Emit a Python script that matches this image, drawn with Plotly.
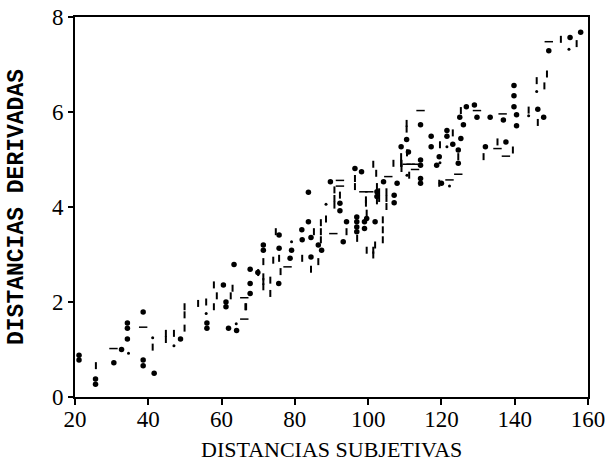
import plotly.graph_objects as go

# Round dots
dot_x = [21.1, 21.1, 25.6, 25.6, 30.6, 32.7, 34.3, 34.3, 34.3, 38.6, 38.6, 38.6, 41.6, 48.8,
         56.0, 56.0, 60.5, 61.2, 61.2, 61.9, 63.4, 64.1, 67.8, 67.8, 67.8, 69.9,
         71.4, 71.4, 75.6, 75.7, 75.7, 78.7, 79.1, 81.9, 82.0, 83.7, 83.7, 84.4, 84.4, 86.4,
         87.3, 89.7, 92.3, 92.3, 93.2, 94.1, 96.4, 96.9, 96.9, 96.9, 96.9, 98.2, 99.0, 99.0,
         99.6, 101.9, 102.4, 102.4, 104.2, 107.1, 107.1, 107.9, 111.0, 114.3, 114.3, 114.3,
         114.3, 118.7, 158.0, 155.1, 149.3, 146.3, 147.9, 139.8, 139.8, 139.8, 140.5, 140.5,
         136.9, 133.3, 132.0, 137.6, 129.0, 126.8, 125.0, 129.7, 126.0, 125.3, 124.6, 124.6,
         123.1, 121.5, 121.5, 119.4, 117.2, 117.2, 114.3, 110.5, 120.0, 109.0]
dot_y = [0.88, 0.78, 0.38, 0.27, 0.72, 1.00, 1.56, 1.45, 1.22, 1.79, 0.78, 0.66, 0.50, 1.22,
         1.56, 1.45, 2.36, 2.00, 1.90, 1.45, 2.79, 1.40, 2.69, 2.39, 2.18, 2.62,
         3.20, 3.09, 2.39, 3.41, 3.13, 2.92, 3.09, 3.52, 3.31, 3.69, 4.31, 3.36, 2.95, 3.20,
         3.09, 4.53, 4.08, 3.92, 3.27, 3.69, 4.81, 3.79, 3.69, 3.58, 3.48, 4.74, 3.69, 3.55,
         3.76, 3.69, 4.32, 4.22, 4.53, 4.25, 4.09, 4.50, 5.16, 4.99, 4.88, 4.60,
         4.50, 4.88, 7.68, 7.57, 7.29, 6.06, 5.89, 6.56, 6.34, 6.11, 5.94, 5.71,
         5.83, 5.89, 5.27, 5.37, 6.15, 6.11, 5.89, 5.89, 5.73, 5.44, 5.20, 4.92,
         5.32, 5.61, 5.49, 5.06, 5.49, 5.27, 5.73, 5.42, 4.50, 5.27]

# Small dots
small_x = [34.6, 41.2, 47.0, 55.8, 64.0, 79.1, 88.5, 154.8, 146.0, 143.8, 121.5, 119.6, 110.6, 122.2]
small_y = [0.92, 1.25, 1.08, 1.76, 1.54, 3.27, 4.06, 7.32, 6.43, 5.92, 5.27, 4.93, 4.67, 4.44]

# Vertical dash marks
vdash_x = [25.7, 44.8, 44.8, 47.0, 49.9, 49.9, 49.9, 53.6, 55.8, 57.9, 57.9, 58.7, 62.5, 63.0,
           66.5, 41.2, 66.7, 70.0, 71.4, 71.4, 71.4, 73.3, 73.3, 71.4, 74.1, 74.8, 75.7, 76.1,
           82.0, 84.4, 85.2, 86.4, 87.1, 87.1, 87.1, 88.5, 90.8, 90.8, 90.8, 92.3, 94.1,
           96.4, 96.4, 97.0, 99.4, 99.4, 99.6, 99.6, 101.4, 101.4, 101.9, 101.4, 102.2, 102.4,
           102.4, 103.0, 103.0, 104.0, 104.0, 104.0, 105.0, 105.0, 105.0, 106.9, 109.1, 109.1,
           111.2, 119.4, 152.6, 156.9, 148.8, 148.1, 146.0, 143.8, 131.5, 135.3, 139.5, 125.3,
           124.6, 123.1, 119.6, 110.5, 110.5, 110.6, 109.0, 109.0, 146.3]
vdash_y = [0.66, 1.34, 1.21, 1.34, 1.90, 1.73, 1.45, 1.97, 2.00, 2.36, 1.90, 2.13, 2.13, 2.29,
           1.90, 1.05, 1.90, 2.62, 2.53, 2.43, 2.32, 2.46, 2.18, 2.85, 2.88, 3.48, 2.92, 2.64,
           2.92, 2.69, 3.48, 2.85, 3.67, 3.48, 3.31, 3.75, 4.36, 4.18, 4.04, 4.25, 3.48,
           4.60, 4.43, 3.34, 4.15, 4.08, 3.87, 3.09, 3.09, 2.99, 3.20, 4.90, 4.71, 4.43,
           4.13, 4.32, 4.18, 3.73, 3.52, 3.31, 4.32, 4.18, 4.01, 4.92, 4.92, 4.81,
           4.67, 4.50, 7.53, 7.44, 6.80, 6.55, 6.66, 6.04, 5.06, 5.37, 5.20, 6.03,
           5.06, 5.56, 5.31, 5.76, 5.64, 5.14, 5.06, 4.92, 5.78]

# Horizontal dash marks
hdash_x = [30.5, 38.6, 66.2, 66.2, 78.0, 90.5, 92.3, 92.3, 98.7, 100.3, 105.5, 111.6, 112.8,
           149.3, 136.7, 135.3, 137.6, 129.7, 124.6, 122.2, 114.3, 110.5, 113.0]
hdash_y = [1.02, 1.47, 2.09, 1.64, 2.74, 3.44, 4.56, 4.44, 4.32, 4.32, 4.64, 4.90, 4.79,
           7.48, 5.96, 5.23, 5.07, 6.03, 4.69, 4.57, 6.03, 4.90, 4.90]

x_ticks = [20, 40, 60, 80, 100, 120, 140, 160]
y_ticks = [0, 2, 4, 6, 8]
x_title = "DISTANCIAS SUBJETIVAS"
y_title = "DISTANCIAS DERIVADAS"

fig = go.Figure()
fig.add_trace(go.Scatter(x=dot_x, y=dot_y, mode="markers",
                         marker=dict(symbol="circle", size=5.5, color="black", line=dict(width=0)),
                         showlegend=False))
fig.add_trace(go.Scatter(x=small_x, y=small_y, mode="markers",
                         marker=dict(symbol="circle", size=3, color="black", line=dict(width=0)),
                         showlegend=False))
fig.add_trace(go.Scatter(x=vdash_x, y=vdash_y, mode="markers",
                         marker=dict(symbol="line-ns", size=5, color="black",
                                     line=dict(width=2, color="black")),
                         showlegend=False))
fig.add_trace(go.Scatter(x=hdash_x, y=hdash_y, mode="markers",
                         marker=dict(symbol="line-ew", size=6, color="black",
                                     line=dict(width=1.5, color="black")),
                         showlegend=False))

tick_font = dict(family="Liberation Serif", size=23, color="black")

fig.update_xaxes(range=[20, 160], tickvals=x_ticks, ticktext=[str(v) for v in x_ticks],
                 showgrid=False, zeroline=False, showline=True, linecolor="black", linewidth=2,
                 mirror=True, ticks="outside", ticklen=6, tickwidth=2, tickcolor="black",
                 tickfont=tick_font, ticklabelstandoff=-6, automargin=False)
fig.update_yaxes(range=[0, 8], tickvals=y_ticks, ticktext=[str(v) for v in y_ticks],
                 showgrid=False, zeroline=False, showline=True, linecolor="black", linewidth=2,
                 mirror=True, ticks="outside", ticklen=5, tickwidth=2, tickcolor="black",
                 tickfont=tick_font, automargin=False)

fig.add_annotation(text=x_title, xref="paper", yref="paper", x=0.5, y=-0.139,
                   xanchor="center", yanchor="middle", showarrow=False,
                   font=dict(family="Liberation Serif", size=22, color="black"))
fig.add_annotation(text="<b>" + y_title + "</b>", xref="paper", yref="paper",
                   x=-0.113, y=0.5, xanchor="center", yanchor="middle", textangle=-90,
                   showarrow=False,
                   font=dict(family="Liberation Mono", size=23, color="black"))

fig.update_layout(width=608, height=461, margin=dict(l=75, r=20, t=17, b=64),
                  plot_bgcolor="white", paper_bgcolor="white")

fig.write_html("out.html")
